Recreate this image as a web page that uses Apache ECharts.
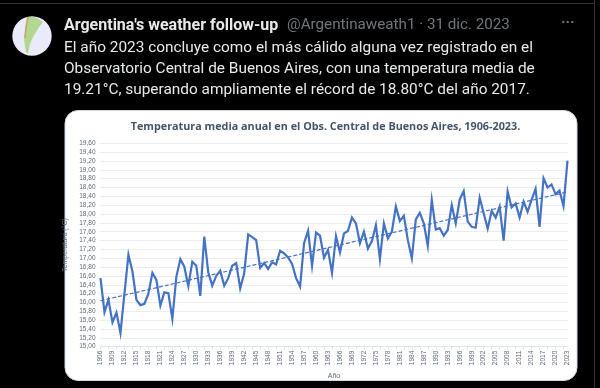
<!DOCTYPE html>
<html>
<head>
<meta charset="utf-8">
<style>
    html, body { margin: 0; background: #000; }
    #chart { width: 600px; height: 388px; }
</style>
<script src="https://cdn.jsdelivr.net/npm/echarts@6/dist/echarts.min.js"></script>
</head>
<body>
<div id="chart"></div>
<script>
const YEARS = [
    '1906','1907','1908','1909','1910','1911','1912','1913','1914','1915','1916','1917','1918','1919','1920',
    '1921','1922','1923','1924','1925','1926','1927','1928','1929','1930','1931','1932','1933','1934','1935',
    '1936','1937','1938','1939','1940','1941','1942','1943','1944','1945','1946','1947','1948','1949','1950',
    '1951','1952','1953','1954','1955','1956','1957','1958','1959','1960','1961','1962','1963','1964','1965',
    '1966','1967','1968','1969','1970','1971','1972','1973','1974','1975','1976','1977','1978','1979','1980',
    '1981','1982','1983','1984','1985','1986','1987','1988','1989','1990','1991','1992','1993','1994','1995',
    '1996','1997','1998','1999','2000','2001','2002','2003','2004','2005','2006','2007','2008','2009','2010',
    '2011','2012','2013','2014','2015','2016','2017','2018','2019','2020','2021','2022','2023'
];
const TEMPERATURES = [
    16.55,15.78,16.06,15.55,15.77,15.31,16.20,17.08,16.70,16.06,15.94,15.97,16.20,16.67,16.51,
    15.93,16.23,16.21,15.63,16.58,16.98,16.81,16.37,16.92,16.83,16.15,17.49,16.68,16.38,16.60,
    16.72,16.38,16.55,16.83,16.89,16.32,16.66,17.54,17.48,17.41,16.78,16.89,16.76,16.91,16.86,
    17.17,17.11,17.02,16.87,16.55,16.36,17.34,17.62,16.83,17.58,17.51,17.01,17.19,16.67,17.50,
    17.13,17.56,17.62,17.92,17.79,17.34,17.60,17.22,17.39,17.75,16.98,17.79,17.45,17.60,18.17,
    17.84,17.96,17.41,17.00,17.88,18.03,17.79,17.28,18.32,17.65,17.68,17.51,17.64,18.20,17.79,
    18.33,18.52,17.83,17.71,17.69,18.37,18.02,17.67,18.07,17.92,18.17,17.40,18.51,18.15,18.24,
    17.92,18.28,18.05,18.32,18.57,17.71,18.81,18.60,18.67,18.45,18.53,18.18,19.21
];
const TREND_YEARS = ['1906', '2023'];
const TREND_VALUES = [16.04, 18.50];

const TITLE = 'Temperatura media anual en el Obs. Central de Buenos Aires, 1906-2023.';
const TWEET_NAME = "Argentina's weather follow-up";
const TWEET_HANDLE = '@Argentinaweath1 · 31 dic. 2023';
const TWEET_LINES = [
    'El año 2023 concluye como el más cálido alguna vez registrado en el',
    'Observatorio Central de Buenos Aires, con una temperatura media de',
    '19.21°C, superando ampliamente el récord de 18.80°C del año 2017.'
];

const LINE_COLOR = '#4472c4';
const LABEL_COLOR = '#5f6b7a';
const UI_FONT = 'Roboto, sans-serif';

let tweet_text = TWEET_LINES.map(function (line, i) {
    return {
        type: 'text', left: 64, top: 41 + i * 20.6,
        style: {text: line, fill: '#e7e9ea', font: '15.4px ' + UI_FONT}
    };
});

let chart = echarts.init(document.getElementById('chart'), null, {renderer: 'canvas'});

let option = {
    backgroundColor: '#000',
    animation: false,
    graphic: [
        /* Tweet frame and card go below the plot. */
        {type: 'rect', z: -10, shape: {x: 0, y: 3, width: 594, height: 1}, style: {fill: '#2f3336'}},
        {type: 'rect', z: -10, shape: {x: 594, y: 0, width: 1, height: 388}, style: {fill: '#2f3336'}},
        {
            type: 'rect', z: -10,
            shape: {x: 65, y: 110.5, width: 512, height: 270, r: 13},
            style: {fill: '#fff', stroke: '#cfd9de', lineWidth: 1}
        },
        /* Avatar. */
        {type: 'circle', z: -9, shape: {cx: 32, cy: 36, r: 19.7}, style: {fill: '#e9ebfb'}},
        {
            type: 'polygon', z: -8,
            shape: {points: [[27, 17], [35, 17], [43, 22], [39, 27], [36, 32], [33, 37], [30, 44], [28, 54], [26, 52], [24, 40], [25, 28]]},
            style: {fill: '#b2d88f'}
        },
        {
            type: 'polyline', z: -8,
            shape: {points: [[28, 17], [26, 28], [25, 38]]},
            style: {stroke: '#d0a070', lineWidth: 1.5, fill: null}
        },
        {
            type: 'text', left: 64, top: 18,
            style: {text: TWEET_NAME, fill: '#e7e9ea', font: 'bold 16px ' + UI_FONT}
        },
        {
            type: 'text', left: 287, top: 18,
            style: {text: TWEET_HANDLE, fill: '#71767b', font: '15.2px ' + UI_FONT}
        },
        {
            type: 'text', left: 561, top: 16,
            style: {text: '···', fill: '#71767b', font: 'bold 15px ' + UI_FONT}
        }
    ].concat(tweet_text),
    title: {
        text: TITLE,
        left: 320.5,
        top: 116,
        textAlign: 'center',
        textStyle: {color: '#44546a', fontFamily: '"Open Sans"', fontWeight: 'bold', fontSize: 10.8}
    },
    grid: {left: 100.5, right: 32.5, top: 143.3, bottom: 41.3},
    xAxis: {
        type: 'category',
        boundaryGap: false,
        data: YEARS,
        name: 'Año',
        nameLocation: 'middle',
        nameGap: 22,
        nameTextStyle: {color: LABEL_COLOR, fontSize: 7, fontFamily: 'Liberation Sans'},
        axisLine: {lineStyle: {color: '#dfe4ea'}},
        axisTick: {interval: 1, length: 3, lineStyle: {color: '#dfe4ea'}},
        axisLabel: {
            interval: 2, rotate: 90, margin: 4,
            color: LABEL_COLOR, fontSize: 6.5, fontFamily: 'Liberation Sans'
        }
    },
    yAxis: {
        type: 'value',
        min: 15,
        max: 19.6,
        interval: 0.2,
        name: 'Temperatura (°C)',
        nameLocation: 'middle',
        nameGap: 26,
        nameTextStyle: {color: LABEL_COLOR, fontSize: 7, fontFamily: 'Liberation Sans'},
        splitLine: {lineStyle: {color: '#e9edf2', width: 1}},
        axisLine: {show: false},
        axisTick: {show: false},
        axisLabel: {
            margin: 5, color: LABEL_COLOR, fontSize: 6.5, fontFamily: 'Liberation Sans',
            formatter: function (value) {
                return value.toFixed(2).replace('.', ',');
            }
        }
    },
    series: [
        {
            name: 'Temperatura media',
            type: 'line',
            data: TEMPERATURES,
            showSymbol: false,
            lineStyle: {color: LINE_COLOR, width: 2.2, join: 'miter'}
        },
        {
            name: 'Tendencia',
            type: 'line',
            data: TREND_YEARS.map(function (year, i) {
                return [year, TREND_VALUES[i]];
            }),
            showSymbol: false,
            lineStyle: {color: LINE_COLOR, width: 1.2, type: [4, 2]}
        }
    ]
};
chart.setOption(option);
</script>
</body>
</html>
